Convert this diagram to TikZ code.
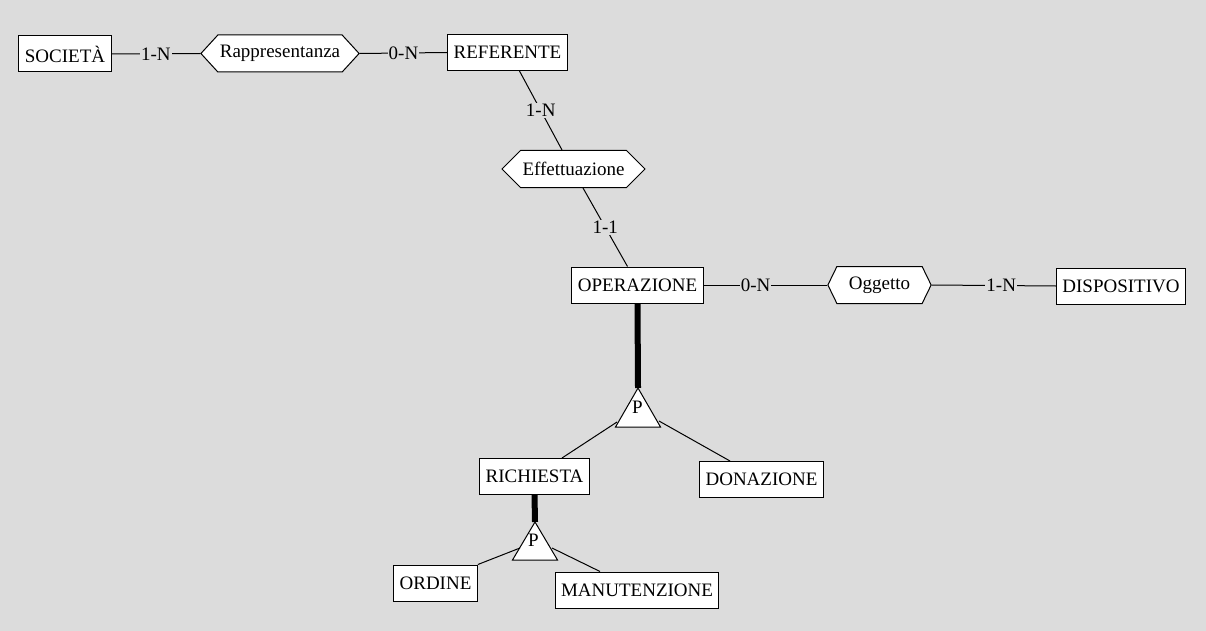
\documentclass[tikz,border=0pt]{standalone}
\usepackage{fontspec}
\setmainfont{Liberation Serif}
\usetikzlibrary{shapes.symbols, calc}
\definecolor{canvasgray}{RGB}{220, 220, 220}

\tikzset{
    entity/.style={draw, fill=white, line width=1pt, minimum height=36pt, inner xsep=6pt, inner ysep=2pt},
    relation/.style={draw, fill=white, line width=1pt, signal, signal to=west and east, minimum height=37pt, inner xsep=2pt, inner ysep=2pt},
    card/.style={fill=canvasgray, inner sep=1pt},
    link/.style={line width=1pt},
    isaline/.style={line width=6pt}
}

\begin{document}
\begin{tikzpicture}[x=1pt, y=-1pt, font=\fontsize{19}{22}\selectfont]
    % Background
    \fill[canvasgray] (0,0) rectangle (1206,631);
    \useasboundingbox (0,0) rectangle (1206,631);

    % Entities
    \node[entity] (soc) at (65,54) {SOCIETÀ};
    \node[entity] (ref) at (507.5,52.5) {REFERENTE};
    \node[entity] (op) at (637.5,285) {OPERAZIONE};
    \node[entity] (disp) at (1121,286) {DISPOSITIVO};
    \node[entity] (rich) at (534.5,476.5) {RICHIESTA};
    \node[entity] (don) at (761.5,479.5) {DONAZIONE};
    \node[entity] (ord) at (435.5,583) {ORDINE};
    \node[entity] (man) at (637,590) {MANUTENZIONE};

    % Relationships
    \node[relation, signal pointer angle=95] (rapp) at (280,53.5) {Rappresentanza};
    \node[relation, signal pointer angle=90] (eff) at (573.5,169) {Effettuazione};
    \node[relation, signal pointer angle=128, inner xsep=12pt] (ogg) at (879.5,285) {Oggetto};

    % Links with cardinalities
    \draw[link] (soc.east) -- node[card] {1-N} (rapp.west);
    \draw[link] (rapp.east) -- node[card] {0-N} (ref.west);
    \draw[link] ($(ref.south)+(12,0)$) -- node[card] {1-N} ($(eff.north)+(-11.5,0)$);
    \draw[link] ($(eff.south)+(9.5,0)$) -- node[card] {1-1} ($(op.north)+(-10,0)$);
    \draw[link] (op.east) -- node[card, pos=0.42] {0-N} (ogg.west);
    \draw[link] (ogg.east) -- node[card, pos=0.56] {1-N} (disp.west);

    % Generalization of OPERAZIONE
    \coordinate (isa1) at (638,388);
    \coordinate (isa1l) at (617,422);
    \coordinate (isa1r) at (659,421);
    \draw[isaline] (op.south) -- (isa1);
    \draw[link, fill=white] (isa1) -- ++(-22.5,39) -- ++(45,0) -- cycle;
    \node (isa1p) at (637.5,407) {P};
    \draw[link] (isa1l) -- ($(rich.north)+(27.5,0)$);
    \draw[link] (isa1r) -- ($(don.north)+(-31.5,0)$);

    % Generalization of RICHIESTA
    \coordinate (isa2) at (535,522);
    \coordinate (isa2l) at (520,548);
    \coordinate (isa2r) at (552,548);
    \draw[isaline] (rich.south) -- (isa2);
    \draw[link, fill=white] (isa2) -- ++(-22.5,38) -- ++(45,0) -- cycle;
    \node (isa2p) at (533.5,540) {P};
    \draw[link] (isa2l) -- (ord.north east);
    \draw[link] (isa2r) -- ($(man.north)+(-37,0)$);
\end{tikzpicture}
\end{document}
